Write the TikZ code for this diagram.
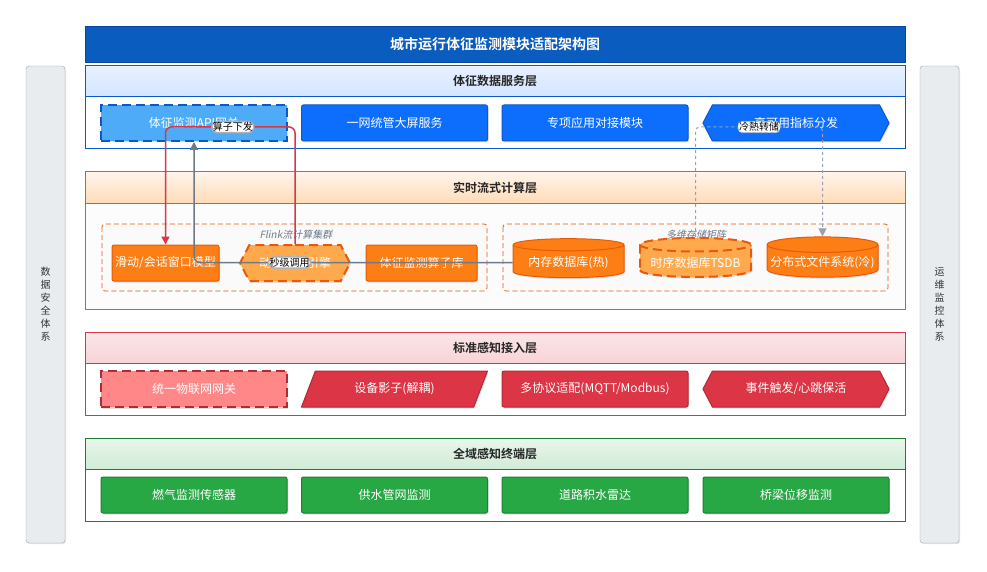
\documentclass[tikz,border=0pt]{standalone}
\usepackage{fontspec}
\setmainfont{Noto Sans CJK SC}[BoldFont={Noto Sans CJK SC Bold}]
\newfontfamily\slantfont{Noto Sans CJK SC}[FakeSlant=0.2]
\usetikzlibrary{arrows.meta,shapes.symbols,shapes.geometric,shadows}
\definecolor{titleblue}{HTML}{0B5CBF}\definecolor{svcblue}{HTML}{0D6EFD}\definecolor{svcedge}{HTML}{0A58CA}\definecolor{apiblue}{HTML}{4DABF7}
\definecolor{floworange}{HTML}{FD7E14}\definecolor{flowedge}{HTML}{E8590C}\definecolor{flowlight}{HTML}{FFA94D}
\definecolor{accred}{HTML}{DC3545}\definecolor{accedge}{HTML}{B02A37}\definecolor{gwred}{HTML}{FF8787}
\definecolor{termgreen}{HTML}{28A745}\definecolor{termedge}{HTML}{1E7E34}\definecolor{slate}{HTML}{6C7A89}\definecolor{sidegray}{HTML}{E9ECEF}

\begin{document}
\begin{tikzpicture}[x=1pt,y=-1pt,font=\fontsize{12}{14}\selectfont,>={Triangle[length=8pt,width=8pt]},
  unit/.style={draw, text=white, minimum height=36pt, inner sep=2pt, line width=1pt, drop shadow={shadow xshift=1pt, shadow yshift=-1.5pt, opacity=0.25}},
  hdr/.style={draw, line width=1pt, minimum width=820pt, minimum height=31pt, font=\bfseries\fontsize{12}{14}\selectfont, text=black!85},
  side/.style={draw=gray!70, fill=sidegray, rounded corners=3pt, minimum width=39pt, minimum height=477pt, align=center, text=black!80, font=\fontsize{10}{13}\selectfont, drop shadow={shadow xshift=1pt, shadow yshift=-1pt, opacity=0.2}},
  hexa/.style={signal, signal to=west and east, signal pointer angle=125},
  db/.style={cylinder, shape border rotate=90, aspect=0.14, minimum width=111pt, minimum height=39pt, text=white, line width=1pt, drop shadow={shadow xshift=1pt, shadow yshift=-1.5pt, opacity=0.25}},
  hold/.style={dashed, dash pattern=on 9pt off 5pt, line width=2pt},
  cluster/.style={draw=flowedge, dash pattern=on 5pt off 3pt, line width=0.8pt, fill=gray!4, rounded corners=3pt},
  tag/.style={fill=white, draw=gray!60, inner sep=1pt, font=\fontsize{10}{11}\selectfont, text=black},
  grouplbl/.style={font=\slantfont\fontsize{10}{11}\selectfont, text=slate}]
\useasboundingbox (0,0) rectangle (987,572);
\fill[white] (0,0) rectangle (987,572);
% frame: title and side systems
\node[draw=svcedge!80!black, fill=titleblue, minimum width=820pt, minimum height=36pt, text=white, font=\bfseries\fontsize{14}{16}\selectfont] (title) at (495,44) {城市运行体征监测模块适配架构图};
\node[side] (security) at (45.5,304.5) {数\\据\\安\\全\\体\\系};\node[side] (ops) at (939.5,304.5) {运\\维\\监\\控\\体\\系};
% service layer
\draw[svcedge, line width=1pt, fill=white] (85,66) rectangle (905,149);\node[hdr, draw=svcedge, top color=svcblue!10, bottom color=svcblue!18] (svchdr) at (495,81.5) {体征数据服务层};
\node[unit, hold, draw=svcedge, fill=apiblue, minimum width=186pt] (api) at (194,123) {体征监测API网关};
\node[unit, draw=svcedge, fill=svcblue, rounded corners=2pt, minimum width=186pt] (screen) at (394.5,123) {一网统管大屏服务};
\node[unit, draw=svcedge, fill=svcblue, rounded corners=2pt, minimum width=186pt] (special) at (595,123) {专项应用对接模块};
\node[unit, hexa, draw=svcedge, fill=svcblue, minimum width=186pt] (dispatch) at (796,123) {高可用指标分发};
% stream computing layer
\draw[flowedge, line width=1pt, fill=gray!2] (85,172) rectangle (905,309);\node[hdr, draw=flowedge, top color=orange!8, bottom color=orange!28] (flowhdr) at (495,187.5) {实时流式计算层};
\draw[cluster] (102,224) rectangle (487,291);\node[grouplbl] (flinklbl) at (296,235) {Flink流计算集群};
\draw[cluster] (503,224) rectangle (888,291);\node[grouplbl] (storelbl) at (696,235) {多维存储矩阵};
\node[unit, draw=flowedge, fill=floworange, rounded corners=2pt, minimum width=107pt] (window) at (165.5,263) {滑动/会话窗口模型};
\node[unit, hexa, hold, draw=flowedge, fill=flowlight, minimum width=110pt] (engine) at (295,263) {动态调度引擎};
\node[unit, draw=flowedge, fill=floworange, rounded corners=2pt, minimum width=111pt] (oplib) at (421.5,263) {体征监测算子库};
\node[db, draw=flowedge, fill=floworange] (memdb) at (568.5,262.5) {内存数据库(热)};
\node[db, hold, draw=flowedge, fill=flowlight] (tsdb) at (695.5,262.5) {时序数据库TSDB};
\node[db, draw=flowedge, fill=floworange] (dfs) at (822.5,262.5) {分布式文件系统(冷)};
% access layer
\draw[accred, line width=1pt, fill=white] (85,332) rectangle (905,415);\node[hdr, draw=accred, top color=accred!12, bottom color=accred!22] (acchdr) at (495,347.5) {标准感知接入层};
\node[unit, hold, draw=accedge, fill=gwred, minimum width=186pt] (gateway) at (194,389) {统一物联网网关};
\node[unit, trapezium, trapezium left angle=50, trapezium right angle=130, trapezium stretches body, draw=accedge, fill=accred, minimum width=186pt] (shadow) at (394.5,389) {设备影子(解耦)};
\node[unit, draw=accedge, fill=accred, rounded corners=2pt, minimum width=186pt] (protocol) at (595,389) {多协议适配(MQTT/Modbus)};
\node[unit, hexa, draw=accedge, fill=accred, minimum width=186pt] (trigger) at (796,389) {事件触发/心跳保活};
% terminal layer
\draw[termedge, line width=1pt, fill=white] (85,438) rectangle (905,521);\node[hdr, draw=termedge, top color=termgreen!10, bottom color=termgreen!22] (termhdr) at (495,453.5) {全域感知终端层};
\foreach \x/\n/\t in {194/gas/燃气监测传感器,394.5/water/供水管网监测,595/radar/道路积水雷达,796/bridge/桥梁位移监测}
  \node[unit, draw=termedge, fill=termgreen, rounded corners=2pt, minimum width=186pt] (\n) at (\x,495) {\t};
% connectors
\draw[accred, line width=1.5pt, rounded corners=6pt, ->] (engine.north) -- (engine.north |- 0,127) -| node[tag, pos=0.24] {算子下发} (window.north);
\draw[slate, line width=1.5pt, rounded corners=6pt, ->] (memdb.west) -| node[tag, pos=0.35] {秒级调用} (api.south);
\draw[slate!70, line width=1pt, dashed, rounded corners=4pt, ->] (tsdb.north) -- (tsdb.north |- 0,127) -| node[tag, pos=0.25] {冷熱转储} (dfs.north);
\end{tikzpicture}
\end{document}
